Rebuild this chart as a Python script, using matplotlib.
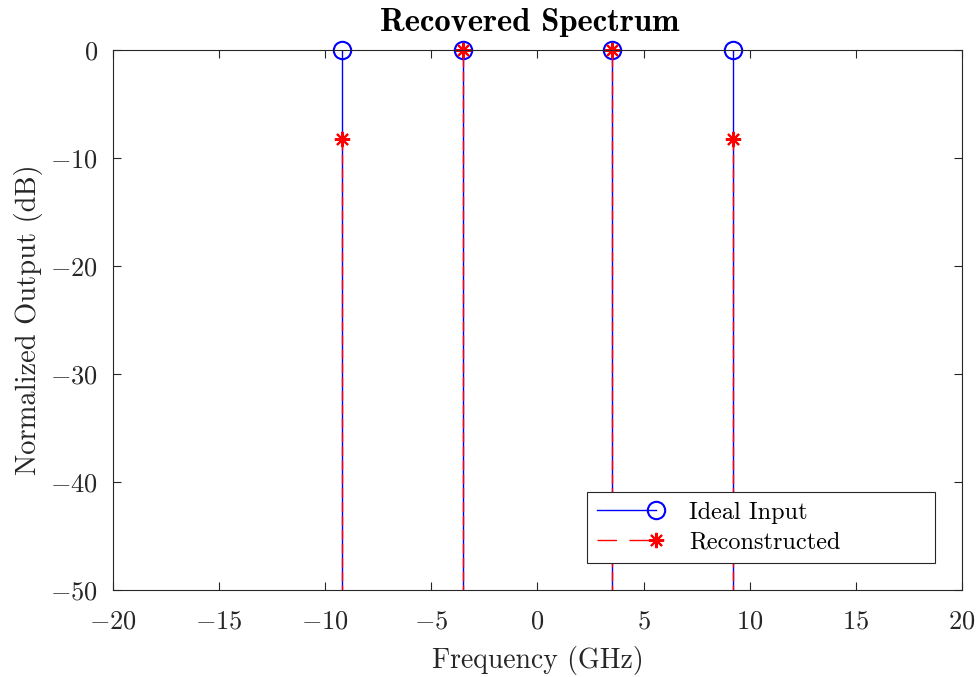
import matplotlib
matplotlib.use("Agg")
import matplotlib.pyplot as plt
from matplotlib.lines import Line2D
from matplotlib.legend_handler import HandlerBase

# Computer Modern look (LaTeX interpreter)
plt.rcParams['font.family'] = 'serif'
plt.rcParams['font.serif'] = ['cmr10']
plt.rcParams['mathtext.fontset'] = 'cm'
plt.rcParams['axes.formatter.use_mathtext'] = True
plt.rcParams['axes.unicode_minus'] = True

# data
freqs = [-9.2, -3.5, 3.5, 9.2]           # GHz
ideal_db = [0, 0, 0, 0]
recon_db = [-8.2, 0, 0, -8.2]
xticks = [-20, -15, -10, -5, 0, 5, 10, 15, 20]
yticks = [-50, -40, -30, -20, -10, 0]


class HandlerStem(HandlerBase):
    # line with the marker at its right end, like MATLAB
    def __init__(self, ls='-', **kw):
        super().__init__(**kw)
        self.ls = ls

    def create_artists(self, legend, orig_handle, xdescent, ydescent,
                       width, height, fontsize, trans):
        y = height / 2 - ydescent
        x0, x1 = -xdescent, width - xdescent
        line = Line2D([x0, x1 - 6], [y, y], color=orig_handle.get_color(),
                      lw=orig_handle.get_linewidth(), ls=self.ls, transform=trans)
        mark = Line2D([x1 - 6], [y], ls='none', marker=orig_handle.get_marker(),
                      ms=orig_handle.get_markersize(),
                      mfc=orig_handle.get_markerfacecolor(),
                      mec=orig_handle.get_markeredgecolor(),
                      mew=orig_handle.get_markeredgewidth(), transform=trans)
        return [line, mark]


fig = plt.figure(figsize=(9.77, 6.77), dpi=100)
ax = fig.add_axes([0.1157, 0.1285, 0.8689, 0.7976])

m1, s1, b1 = ax.stem(freqs, ideal_db, bottom=-100)
s1.set_color('b')
s1.set_linewidth(1.0)
m1.set_marker('o')
m1.set_markersize(12.5)
m1.set_markerfacecolor('none')
m1.set_markeredgecolor('b')
m1.set_markeredgewidth(1.5)
m1.set_clip_on(False)
b1.set_visible(False)

m2, s2, b2 = ax.stem(freqs, recon_db, bottom=-100)
s2.set_color('r')
s2.set_linewidth(1.0)
s2.set_linestyle((0, (7, 3)))
m2.set_marker((8, 2, 0))
m2.set_markersize(11)
m2.set_markeredgecolor('r')
m2.set_markeredgewidth(1.5)
m2.set_clip_on(False)
b2.set_visible(False)

ax.set_xlim(-20, 20)
ax.set_ylim(-50, 0)
ax.set_xticks(xticks)
ax.set_yticks(yticks)
ax.tick_params(direction='in', length=6, width=0.8, top=True, right=True,
               labelsize=19, colors='#262626')
ax.tick_params(axis='x', pad=14)
ax.tick_params(axis='y', pad=11)
for sp in ax.spines.values():
    sp.set_color('#262626')
    sp.set_linewidth(0.8)

ax.set_xlabel('Frequency (GHz)', fontsize=20, color='#262626', labelpad=9)
ax.set_ylabel('Normalized Output (dB)', fontsize=20.5, color='#262626', labelpad=5)
ax.set_title('Recovered Spectrum', fontsize=23.5, fontfamily='cmb10', pad=14, x=0.491)

h1 = Line2D([], [], color='b', lw=1.0, marker='o', ms=12.5, mfc='none', mec='b', mew=1.5)
h2 = Line2D([], [], color='r', lw=1.0, marker=(8, 2, 0), ms=11, mec='r', mew=1.5)
leg = ax.legend([h1, h2], ['Ideal Input', 'Reconstructed'], loc='lower left',
                bbox_to_anchor=(0.5583, 0.05, 0.41, 0.13), mode='expand',
                fontsize=17.5, handlelength=2.8, handletextpad=1.0,
                borderpad=0.4, borderaxespad=0, labelspacing=0.3,
                fancybox=False, framealpha=1, edgecolor='#262626',
                handler_map={h1: HandlerStem('-'),
                             h2: HandlerStem((0, (14, 9)))})
leg.get_frame().set_linewidth(0.8)

fig.savefig('out.png', dpi=100)
